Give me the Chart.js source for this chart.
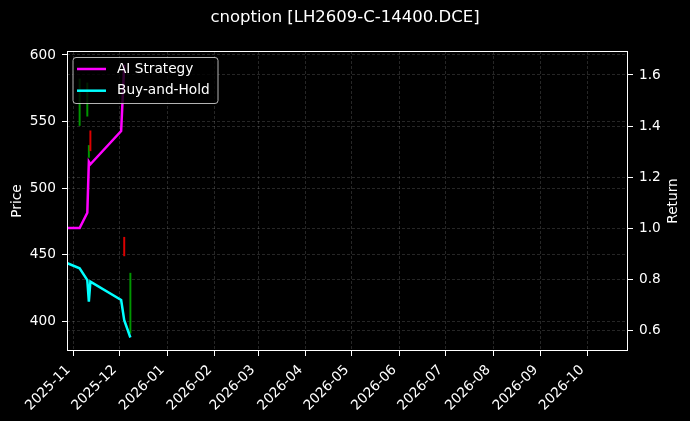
<!DOCTYPE html>
<html>
<head>
<meta charset="utf-8">
<script src="https://cdn.jsdelivr.net/npm/chart.js@4.4.1/dist/chart.umd.min.js"></script>
<style>
    html, body { margin: 0; padding: 0; background: #000; }
    #wrap { width: 690px; height: 421px; }
</style>
</head>
<body>
<div id="wrap"><canvas id="chart"></canvas></div>
<script>
// dates shared by the two return curves
const dates = ['2025-10-28', '2025-11-05', '2025-11-10', '2025-11-11', '2025-11-12', '2025-12-02', '2025-12-04', '2025-12-08'];
const aiReturn = [1.00, 1.00, 1.06, 1.26, 1.25, 1.38, 1.64, null];
const holdReturn = [0.862, 0.842, 0.796, 0.711, 0.79, 0.718, 0.639, 0.571];

// option price candles (only the high-low wick is visible)
const candleDates = ['2025-11-05', '2025-11-10', '2025-11-11', '2025-11-12', '2025-12-04', '2025-12-08'];
const candleHigh = [582, 579, 532, 543, 463, 436];
const candleLow = [547, 554, 523, 528, 449, 391];
const candleDir = ['up', 'up', 'up', 'down', 'down', 'up'];

// tick labels
const monthTicks = ['2025-11', '2025-12', '2026-01', '2026-02', '2026-03', '2026-04',
                    '2026-05', '2026-06', '2026-07', '2026-08', '2026-09', '2026-10'];
const priceTicks = [400, 450, 500, 550, 600];
const returnTicks = [0.6, 0.8, 1.0, 1.2, 1.4, 1.6];

const FONT = '"DejaVu Sans", sans-serif';
const FONT_SIZE = 13.7;
const GRID = 'rgba(255,255,255,0.25)';

function toPoints(values) {
    return dates.map((d, i) => ({ x: Date.parse(d), y: values[i] }));
}

// box around the plot, right axis title (reads bottom-up) and legend on top
const frameAndLegend = {
    id: 'frameAndLegend',
    afterDraw(chart) {
        const { ctx, chartArea } = chart;
        ctx.save();
        ctx.strokeStyle = '#fff';
        ctx.lineWidth = 1;
        ctx.strokeRect(chartArea.left + 0.5, chartArea.top + 0.5,
                       chartArea.right - chartArea.left - 1, chartArea.bottom - chartArea.top - 1);

        ctx.font = FONT_SIZE + 'px ' + FONT;
        ctx.fillStyle = '#fff';
        ctx.textAlign = 'center';
        ctx.textBaseline = 'middle';
        ctx.save();
        ctx.translate(chartArea.right + 45, (chartArea.top + chartArea.bottom) / 2);
        ctx.rotate(-Math.PI / 2);
        ctx.fillText('Return', 0, 0);
        ctx.restore();

        const items = chart.data.datasets.filter(ds => ds.type === 'line');
        const x = chartArea.left + 6, y = chartArea.top + 6.5;
        ctx.beginPath();
        ctx.roundRect(x, y, 145, 46, 3);
        ctx.fillStyle = 'rgba(0,0,0,0.8)';
        ctx.fill();
        ctx.strokeStyle = 'rgba(210,210,210,0.85)';
        ctx.stroke();
        ctx.textAlign = 'left';
        items.forEach((ds, i) => {
            const cy = y + 11.5 + i * 21.7;
            ctx.strokeStyle = ds.borderColor;
            ctx.lineWidth = 2.5;
            ctx.beginPath();
            ctx.moveTo(x + 4, cy);
            ctx.lineTo(x + 33, cy);
            ctx.stroke();
            ctx.fillStyle = '#fff';
            ctx.fillText(ds.label, x + 44, cy);
        });
        ctx.restore();
    }
};

const tickFont = { family: FONT, size: FONT_SIZE };
const gridOpts = {
    color: GRID,
    lineWidth: 0.6,
    tickColor: '#fff',
    tickLength: 5,
    tickWidth: 1
};

new Chart(document.getElementById('chart'), {
    type: 'bar',
    data: {
        datasets: [
            {
                type: 'line',
                label: 'AI Strategy',
                data: toPoints(aiReturn),
                yAxisID: 'y1',
                borderColor: '#ff00ff',
                borderWidth: 2.5,
                pointRadius: 0,
                tension: 0,
                order: 0
            },
            {
                type: 'line',
                label: 'Buy-and-Hold',
                data: toPoints(holdReturn),
                yAxisID: 'y1',
                borderColor: '#00ffff',
                borderWidth: 2.5,
                pointRadius: 0,
                tension: 0,
                order: 0
            },
            {
                type: 'bar',
                label: 'Price',
                data: candleDates.map((d, i) => ({ x: Date.parse(d), y: [candleLow[i], candleHigh[i]] })),
                yAxisID: 'y',
                backgroundColor: candleDir.map(d => d === 'up' ? 'rgb(0,150,0)' : 'rgb(220,0,0)'),
                barThickness: 1.3,
                order: 1
            }
        ]
    },
    options: {
        responsive: true,
        maintainAspectRatio: false,
        animation: false,
        layout: { padding: 0 },
        plugins: {
            legend: { display: false },
            tooltip: { enabled: false },
            title: {
                display: true,
                text: 'cnoption [LH2609-C-14400.DCE]',
                color: '#fff',
                font: { family: FONT, size: 16.5, weight: 'normal' },
                padding: { top: 8, bottom: 23.2 }
            }
        },
        scales: {
            x: {
                type: 'linear',
                offset: false,
                min: Date.parse('2025-10-27T19:00:00Z'),
                max: Date.parse('2026-10-27T14:00:00Z'),
                afterBuildTicks: axis => {
                    axis.ticks = monthTicks.map(m => ({ value: Date.parse(m + '-01') }));
                },
                afterFit: scale => { scale.height = 70; },
                ticks: {
                    autoSkip: false,
                    maxRotation: 45,
                    minRotation: 45,
                    padding: 6,
                    labelOffset: -5,
                    color: '#fff',
                    font: tickFont,
                    callback: (v, i) => monthTicks[i]
                },
                grid: Object.assign({ offset: false }, gridOpts),
                border: { display: false, dash: [3, 2] }
            },
            y: {
                position: 'left',
                min: 377.5,
                max: 603,
                afterBuildTicks: axis => { axis.ticks = priceTicks.map(v => ({ value: v })); },
                afterFit: scale => { scale.width = 67; },
                ticks: { color: '#fff', font: tickFont, padding: 6 },
                grid: gridOpts,
                border: { display: false, dash: [3, 2] },
                title: {
                    display: true,
                    text: 'Price',
                    color: '#fff',
                    font: tickFont,
                    padding: { top: 8.8, bottom: 0 }
                }
            },
            y1: {
                position: 'right',
                min: 0.518,
                max: 1.694,
                afterBuildTicks: axis => { axis.ticks = returnTicks.map(v => ({ value: v })); },
                afterFit: scale => { scale.width = 62; },
                ticks: {
                    color: '#fff',
                    font: tickFont,
                    padding: 6,
                    callback: v => v.toFixed(1)
                },
                grid: gridOpts,
                border: { display: false, dash: [3, 2] }
            }
        }
    },
    plugins: [frameAndLegend]
});
</script>
</body>
</html>
